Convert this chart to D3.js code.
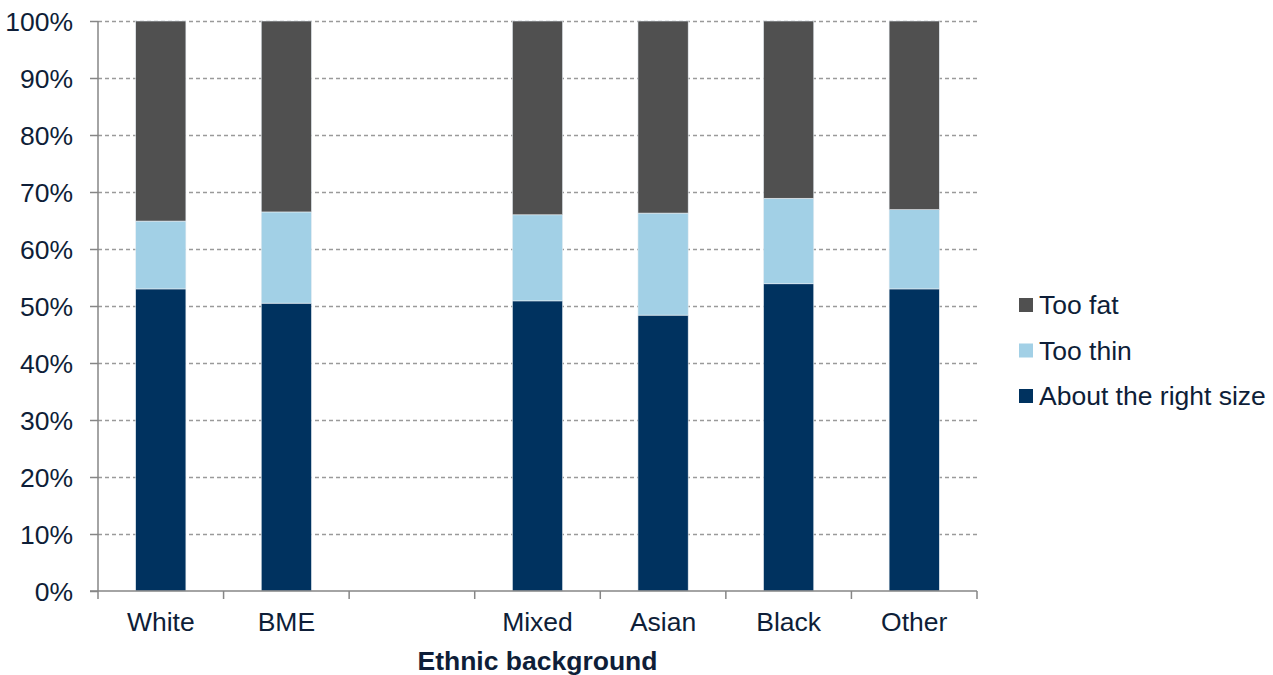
<!DOCTYPE html>
<html>
<head>
<meta charset="utf-8">
<script src="https://cdn.jsdelivr.net/npm/d3@7"></script>
<style>
  body { margin: 0; background: #fff; }
  text { font-family: "Liberation Sans", Arial, sans-serif; fill: #0e1e38; }
</style>
</head>
<body>
<svg id="chart" width="1273" height="675"></svg>
<script>
const categories = ["White", "BME", "", "Mixed", "Asian", "Black", "Other"];
const rightSize = [53.0, 50.5, null, 50.9, 48.4, 53.9, 53.0];
const tooThin   = [11.9, 16.0, null, 15.1, 17.9, 15.0, 13.9];
const tooFat    = [35.1, 33.5, null, 34.0, 33.7, 31.1, 33.1];
const seriesNames = ["About the right size", "Too thin", "Too fat"];
const seriesColors = ["#00325f", "#a2d0e6", "#505050"];
const yTicks = [0, 10, 20, 30, 40, 50, 60, 70, 80, 90, 100];
const xTitle = "Ethnic background";

(function () {
const FS = "26.5px";
const svg = d3.select("#chart");
const mLeft = 98, mRight = 977, mTop = 21, mBottom = 591;

const keys = categories.map((c, i) => "k" + i);
const x = d3.scaleBand().domain(keys).range([mLeft, mRight]).padding(0);
const y = d3.scaleLinear().domain([0, 100]).range([mBottom, mTop]);

// gridlines
svg.append("g").selectAll("line").data(yTicks.filter(d => d > 0)).join("line")
  .attr("x1", mLeft).attr("x2", mRight)
  .attr("y1", d => y(d) + 0.5).attr("y2", d => y(d) + 0.5)
  .attr("stroke", "#9a9a9a").attr("stroke-width", 1.3)
  .attr("stroke-dasharray", "4,3");

// stacked data
const rows = categories.map((c, i) => ({key: keys[i], v: [rightSize[i], tooThin[i], tooFat[i]]}))
  .filter(r => r.v[0] !== null);
const barW = x.bandwidth() * 0.4;
rows.forEach(r => {
  let acc = 0;
  r.v.forEach((val, s) => {
    svg.append("rect")
      .attr("x", x(r.key) + (x.bandwidth() - barW) / 2)
      .attr("width", barW)
      .attr("y", y(acc + val))
      .attr("height", y(acc) - y(acc + val))
      .attr("fill", seriesColors[s])
      .attr("stroke", "#e8eef3").attr("stroke-width", 0.6);
    acc += val;
  });
});

// y axis
const yAxis = d3.axisLeft(y).tickValues(yTicks).tickFormat(d => d + "%").tickSize(8).tickPadding(17);
const gy = svg.append("g").attr("transform", `translate(${mLeft},0)`).call(yAxis);
gy.select(".domain").attr("stroke", "#868686").attr("stroke-width", 1.5).attr("d", `M0,${mTop}V${mBottom}`);
gy.selectAll(".tick line").attr("stroke", "#868686").attr("stroke-width", 1.5);
gy.selectAll(".tick text").style("font-size", FS).style("fill", "#0e1e38")
  .style("font-family", "'Liberation Sans', Arial, sans-serif").attr("dy", "0.35em");

// x axis
const gx = svg.append("g").attr("transform", `translate(0,${mBottom})`);
gx.append("line").attr("x1", mLeft - 8).attr("x2", mRight).attr("y1", 0).attr("y2", 0)
  .attr("stroke", "#868686").attr("stroke-width", 1.5);
const bounds = keys.map(k => x(k)).concat([mRight]);
gx.selectAll("line.tk").data(bounds).join("line").attr("class", "tk")
  .attr("x1", d => d).attr("x2", d => d).attr("y1", 0).attr("y2", 8)
  .attr("stroke", "#868686").attr("stroke-width", 1.5);
gx.selectAll("text").data(categories).join("text")
  .attr("x", (d, i) => x(keys[i]) + x.bandwidth() / 2)
  .attr("y", 40).attr("text-anchor", "middle")
  .style("font-size", FS).text(d => d);

svg.append("text").attr("x", (mLeft + mRight) / 2).attr("y", 670)
  .attr("text-anchor", "middle").style("font-size", FS).style("font-weight", "bold")
  .text(xTitle);

// legend
const legendOrder = [2, 1, 0];
const lg = svg.append("g");
legendOrder.forEach((s, i) => {
  const cy = 305 + i * 45.5;
  lg.append("rect").attr("x", 1019).attr("y", cy - 7).attr("width", 14).attr("height", 14)
    .attr("fill", seriesColors[s]);
  lg.append("text").attr("x", 1039).attr("y", cy).attr("dy", "0.35em")
    .style("font-size", FS).text(seriesNames[s]);
});
})();
</script>
</body>
</html>
